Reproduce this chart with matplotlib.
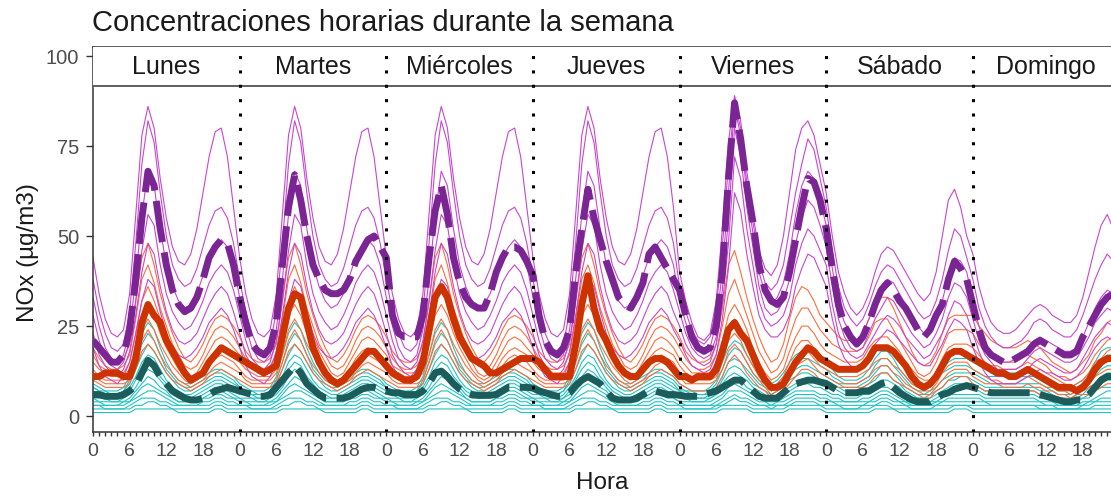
#!/usr/bin/env python3
# -*- coding: utf-8 -*-
"""
Perfil semanal de concentraciones horarias de NOx por estación
Líneas finas: estaciones; líneas gruesas: media de cada grupo
"""

import matplotlib
matplotlib.use('Agg')  # sin pantalla
import matplotlib.pyplot as plt
from matplotlib.ticker import FixedLocator, MultipleLocator

plt.rcParams['font.family'] = ['Liberation Sans', 'DejaVu Sans']

DIAS = ["Lunes", "Martes", "Miércoles", "Jueves", "Viernes", "Sábado", "Domingo"]
HORAS_ETIQUETA = [0, 6, 12, 18]
Y_TICKS = [0, 25, 50, 75, 100]

# medias por grupo (una fila por día, 24 horas)
media_alta = [
    [21, 19, 17, 15, 15, 17, 24, 38, 55, 68, 64, 52, 42, 35, 31, 29, 30, 33, 38, 44, 47, 49, 48, 42],
    [33, 26, 20, 18, 17, 19, 26, 42, 58, 67, 60, 50, 42, 38, 35, 34, 34, 35, 38, 43, 46, 49, 50, 47],
    [44, 28, 23, 22, 22, 22, 28, 44, 57, 64, 56, 44, 37, 33, 31, 30, 30, 34, 40, 44, 47, 47, 46, 43],
    [39, 28, 21, 18, 17, 19, 24, 40, 52, 63, 55, 49, 43, 38, 33, 31, 30, 33, 37, 45, 47, 44, 41, 38],
    [35, 28, 22, 19, 18, 19, 25, 40, 66, 87, 77, 64, 54, 42, 35, 32, 31, 33, 40, 49, 58, 66, 65, 60],
    [52, 41, 31, 25, 22, 20, 22, 26, 31, 35, 37, 35, 32, 30, 27, 24, 22, 24, 28, 31, 38, 43, 41, 38],
    [31, 24, 19, 17, 16, 15, 15, 16, 17, 18, 20, 21, 20, 19, 18, 17, 17, 18, 22, 25, 28, 31, 33, 34],
]
media_media = [
    [11, 11, 12, 12, 12, 11, 11, 16, 26, 31, 28, 26, 21, 18, 15, 12, 10, 11, 12, 15, 17, 19, 18, 17],
    [16, 15, 14, 13, 12, 13, 14, 22, 30, 34, 33, 26, 19, 15, 12, 10, 9, 10, 12, 14, 16, 18, 18, 16],
    [14, 12, 11, 10, 10, 11, 15, 24, 33, 36, 33, 27, 22, 19, 16, 15, 14, 12, 12, 13, 14, 15, 16, 16],
    [16, 15, 13, 11, 11, 11, 11, 20, 31, 39, 30, 24, 21, 17, 14, 12, 11, 11, 13, 15, 16, 16, 15, 13],
    [11, 11, 10, 11, 11, 11, 13, 18, 24, 26, 23, 21, 17, 13, 10, 8, 8, 9, 12, 15, 17, 19, 18, 16],
    [15, 14, 13, 13, 13, 13, 14, 16, 19, 19, 19, 18, 16, 14, 11, 9, 8, 9, 11, 14, 17, 18, 18, 17],
    [16, 15, 14, 13, 12, 12, 11, 11, 12, 13, 12, 11, 10, 9, 8, 8, 8, 7, 8, 10, 13, 15, 16, 16],
]
media_baja = [
    [6, 6, 5.5, 5.5, 5.5, 6, 7, 8.5, 12, 15.5, 14, 11, 9, 7, 6, 5, 4.5, 4.5, 5, 6, 7, 7.5, 8, 7.5],
    [7, 6.5, 6, 5.5, 5.5, 6, 8, 10, 12, 14, 12, 9, 7.5, 6, 5, 5, 5, 5, 5.5, 6.5, 7.5, 8, 8, 7.5],
    [7, 6.5, 6.5, 6, 6, 6, 7, 9, 12, 12.5, 11, 9, 7.5, 6.5, 6, 5.8, 5.8, 5.8, 6, 7, 8, 8, 8, 8],
    [7.8, 7, 6.5, 6, 5.5, 5.5, 6.5, 8.5, 10, 11, 10, 9, 7, 5, 4.5, 4.5, 4.5, 5, 6, 7, 7, 6.5, 6, 6],
    [5.8, 5.5, 5.5, 5.5, 6, 6.5, 7, 8, 9, 10, 10, 8.5, 7, 5.5, 5, 5, 5, 6.5, 8, 9, 9.5, 10, 10, 9.5],
    [9, 8, 7, 6.5, 6.5, 6.5, 7, 7, 8, 9, 9.5, 8, 6.5, 5.5, 4.5, 4, 4, 4, 5, 6, 6.5, 7.5, 8, 8.5],
    [8, 7.5, 7, 6.5, 6.5, 6.5, 6.5, 6.5, 6.5, 6.5, 6.5, 6, 5.5, 5, 4.5, 4, 4, 4.5, 4.5, 6, 8, 10, 11, 11],
]

# estaciones del grupo alto: perfil lunes-jueves, viernes, sábado, domingo
alta_lab = [
    [44, 34, 27, 23, 22, 24, 34, 56, 78, 86, 80, 66, 55, 47, 43, 42, 45, 52, 62, 72, 79, 80, 72, 58],
    [38, 29, 23, 19, 18, 20, 29, 48, 70, 82, 76, 62, 50, 42, 38, 36, 37, 41, 47, 53, 57, 58, 55, 48],
    [33, 25, 19, 16, 15, 17, 24, 38, 56, 68, 64, 52, 42, 36, 32, 30, 31, 34, 39, 44, 47, 49, 47, 42],
    [28, 21, 16, 14, 13, 15, 21, 32, 46, 56, 53, 42, 34, 29, 26, 24, 25, 28, 32, 37, 40, 42, 40, 35],
    [23, 17, 14, 12, 11, 13, 18, 28, 40, 48, 45, 36, 29, 24, 21, 20, 21, 23, 27, 31, 34, 36, 34, 29],
    [19, 14, 11, 10, 9, 11, 15, 23, 32, 38, 36, 29, 23, 19, 17, 16, 17, 19, 22, 26, 28, 30, 28, 24],
]
alta_vie = [
    [40, 32, 26, 22, 21, 23, 32, 52, 76, 89, 82, 68, 56, 46, 41, 39, 42, 50, 62, 74, 80, 82, 78, 70],
    [36, 29, 24, 21, 20, 22, 30, 47, 70, 87, 80, 65, 54, 43, 37, 35, 37, 42, 52, 62, 70, 77, 74, 66],
    [32, 26, 21, 19, 18, 19, 26, 40, 62, 86, 78, 62, 51, 40, 34, 31, 33, 37, 45, 56, 64, 68, 66, 60],
    [29, 23, 19, 17, 16, 17, 22, 35, 55, 80, 72, 58, 47, 36, 30, 28, 29, 32, 38, 48, 55, 60, 58, 53],
    [25, 20, 17, 15, 14, 15, 20, 31, 48, 72, 66, 52, 42, 32, 27, 25, 26, 28, 33, 42, 48, 52, 50, 46],
    [21, 17, 14, 13, 12, 13, 17, 27, 41, 62, 57, 45, 36, 28, 24, 22, 22, 24, 28, 36, 41, 45, 44, 40],
]
alta_sab = [
    [62, 50, 40, 34, 30, 28, 30, 34, 40, 45, 47, 46, 43, 40, 37, 34, 32, 34, 40, 50, 60, 63, 58, 50],
    [58, 46, 36, 30, 27, 25, 27, 31, 36, 40, 42, 41, 38, 35, 32, 29, 27, 28, 32, 38, 46, 52, 50, 44],
    [53, 41, 31, 26, 23, 21, 23, 27, 31, 35, 38, 37, 34, 31, 28, 25, 23, 24, 28, 32, 39, 44, 43, 40],
    [47, 36, 27, 22, 19, 18, 19, 23, 27, 30, 33, 32, 29, 26, 23, 21, 19, 20, 23, 27, 33, 37, 36, 33],
    [42, 31, 23, 19, 17, 16, 17, 20, 23, 26, 28, 27, 25, 22, 20, 18, 16, 17, 20, 23, 28, 32, 31, 28],
    [36, 27, 20, 16, 14, 13, 14, 17, 20, 22, 24, 23, 21, 19, 17, 15, 14, 14, 17, 20, 24, 27, 26, 24],
]
alta_dom = [
    [45, 36, 30, 26, 24, 23, 23, 24, 26, 28, 30, 31, 30, 28, 27, 26, 26, 28, 33, 40, 47, 53, 56, 52],
    [38, 30, 25, 22, 20, 19, 19, 20, 21, 23, 26, 27, 26, 24, 23, 22, 22, 24, 28, 33, 38, 42, 45, 43],
    [32, 25, 20, 18, 16, 15, 15, 16, 17, 19, 21, 22, 21, 20, 19, 18, 18, 19, 22, 26, 30, 33, 35, 34],
    [27, 21, 17, 15, 13, 13, 13, 13, 14, 16, 18, 19, 18, 17, 16, 15, 15, 16, 19, 22, 26, 28, 30, 29],
    [23, 18, 14, 12, 11, 11, 11, 11, 12, 13, 15, 16, 15, 14, 13, 12, 12, 13, 16, 19, 22, 24, 26, 25],
    [19, 15, 12, 10, 9, 9, 9, 9, 10, 11, 12, 13, 12, 12, 11, 10, 10, 11, 13, 16, 19, 21, 22, 21],
]

# estaciones del grupo medio
media_lab = [
    [22, 18, 16, 15, 15, 16, 20, 32, 44, 48, 42, 34, 28, 23, 19, 16, 15, 17, 20, 24, 27, 28, 27, 25],
    [19, 16, 14, 13, 13, 14, 17, 27, 38, 42, 37, 30, 25, 20, 17, 14, 13, 14, 17, 21, 24, 25, 24, 22],
    [17, 14, 13, 12, 12, 12, 15, 23, 32, 36, 32, 27, 22, 18, 15, 12, 11, 12, 15, 18, 21, 22, 21, 19],
    [15, 13, 12, 11, 11, 11, 13, 20, 28, 31, 28, 23, 19, 16, 13, 11, 10, 11, 13, 16, 18, 19, 18, 17],
    [13, 11, 10, 10, 10, 10, 12, 17, 24, 27, 24, 20, 17, 14, 12, 10, 9, 10, 12, 14, 16, 17, 16, 15],
    [12, 10, 9, 9, 9, 9, 10, 15, 21, 24, 21, 17, 14, 12, 10, 9, 8, 9, 10, 12, 14, 15, 14, 13],
    [10, 9, 8, 8, 8, 8, 9, 13, 18, 20, 18, 15, 12, 10, 9, 8, 7, 8, 9, 11, 12, 13, 12, 11],
]
media_vie = [
    [22, 18, 16, 15, 15, 16, 20, 30, 42, 46, 40, 33, 27, 22, 18, 15, 16, 20, 27, 33, 36, 35, 32, 28],
    [19, 16, 14, 13, 13, 14, 17, 25, 34, 38, 33, 28, 23, 18, 15, 12, 13, 16, 22, 27, 30, 30, 27, 24],
    [16, 14, 12, 12, 12, 12, 15, 21, 28, 31, 28, 24, 19, 15, 12, 10, 11, 13, 18, 22, 25, 25, 23, 20],
    [14, 12, 11, 11, 11, 11, 13, 18, 24, 27, 24, 20, 16, 13, 10, 8, 9, 11, 15, 19, 21, 21, 19, 17],
    [12, 10, 10, 10, 10, 10, 11, 15, 21, 23, 21, 17, 14, 11, 9, 7, 8, 9, 13, 16, 18, 18, 16, 14],
    [11, 9, 9, 9, 9, 9, 10, 13, 18, 20, 18, 15, 12, 10, 8, 6, 7, 8, 11, 14, 15, 16, 14, 12],
    [9, 8, 7, 7, 7, 7, 8, 11, 15, 17, 15, 12, 10, 8, 7, 5, 6, 7, 9, 11, 13, 13, 12, 10],
]
media_sab = [
    [26, 24, 22, 21, 21, 21, 23, 27, 31, 33, 33, 30, 26, 22, 18, 15, 14, 15, 18, 23, 27, 28, 28, 28],
    [22, 20, 19, 18, 18, 18, 19, 22, 26, 27, 27, 24, 21, 18, 15, 12, 11, 12, 15, 19, 23, 24, 24, 24],
    [18, 17, 16, 15, 15, 15, 16, 19, 21, 22, 22, 20, 18, 15, 13, 11, 10, 10, 12, 16, 19, 20, 20, 20],
    [15, 14, 13, 13, 13, 13, 14, 16, 18, 19, 19, 17, 15, 13, 11, 9, 8, 8, 10, 14, 17, 18, 18, 18],
    [13, 12, 11, 11, 11, 11, 12, 13, 15, 16, 16, 14, 13, 11, 9, 8, 7, 7, 9, 12, 14, 15, 15, 15],
    [11, 10, 9, 9, 9, 9, 10, 11, 13, 14, 14, 12, 11, 9, 8, 7, 6, 6, 8, 10, 12, 13, 13, 13],
    [9, 8, 8, 8, 8, 8, 8, 9, 11, 12, 12, 10, 9, 8, 7, 6, 5, 5, 7, 8, 10, 11, 11, 11],
]
media_dom = [
    [28, 25, 23, 21, 20, 19, 19, 19, 20, 21, 20, 19, 17, 15, 14, 13, 12, 13, 15, 17, 21, 23, 26, 27],
    [23, 20, 18, 17, 16, 15, 15, 15, 16, 17, 16, 15, 14, 12, 11, 11, 10, 11, 12, 14, 17, 19, 21, 22],
    [19, 17, 15, 14, 14, 13, 13, 13, 14, 15, 14, 13, 12, 11, 10, 9, 8, 9, 10, 12, 15, 16, 18, 19],
    [16, 14, 13, 12, 12, 11, 11, 11, 12, 13, 12, 11, 10, 9, 8, 8, 7, 8, 9, 10, 13, 14, 16, 16],
    [13, 12, 11, 10, 10, 9, 9, 9, 10, 11, 10, 9, 8, 8, 7, 7, 6, 7, 8, 9, 11, 12, 13, 13],
    [11, 10, 9, 9, 9, 8, 8, 8, 8, 9, 8, 8, 7, 7, 6, 6, 5, 6, 7, 8, 9, 10, 11, 11],
    [9, 8, 7, 7, 7, 6, 6, 6, 7, 7, 7, 6, 6, 5, 5, 5, 4, 5, 6, 6, 7, 8, 9, 9],
]

# estaciones del grupo bajo
baja_lab = [
    [9, 8, 7, 7, 7, 8, 11, 17, 23, 26, 24, 19, 15, 12, 10, 9, 9, 10, 11, 12, 13, 13, 12, 11],
    [8, 7, 7, 6, 6, 7, 10, 15, 20, 23, 21, 17, 13, 11, 9, 8, 8, 9, 10, 11, 12, 12, 11, 10],
    [8, 7, 6, 6, 6, 7, 9, 13, 17, 20, 18, 15, 12, 10, 8, 7, 7, 8, 9, 10, 11, 11, 10, 9],
    [7, 6, 6, 5, 5, 6, 8, 11, 15, 17, 16, 13, 10, 8, 7, 6, 6, 7, 8, 9, 10, 10, 9, 8],
    [6, 6, 5, 5, 5, 5, 7, 10, 13, 15, 14, 11, 9, 7, 6, 5, 5, 6, 7, 8, 9, 9, 8, 7],
    [5, 5, 5, 4, 4, 5, 6, 8, 11, 13, 12, 10, 8, 6, 5, 5, 5, 5, 6, 7, 8, 8, 7, 6],
    [5, 4, 4, 4, 4, 4, 5, 7, 9, 11, 10, 8, 7, 5, 4, 4, 4, 4, 5, 6, 7, 7, 6, 5],
    [4, 4, 3, 3, 3, 4, 4, 6, 8, 9, 8, 7, 6, 5, 4, 4, 4, 4, 5, 5, 6, 6, 5, 5],
    [3, 3, 3, 3, 3, 3, 4, 5, 6, 7, 7, 6, 5, 4, 3, 3, 3, 3, 4, 4, 5, 5, 4, 4],
    [3, 3, 2, 2, 2, 2, 3, 4, 5, 5, 5, 4, 4, 3, 3, 3, 3, 3, 3, 3, 4, 4, 3, 3],
    [2, 2, 2, 2, 2, 2, 2, 3, 3, 4, 4, 3, 3, 2, 2, 2, 2, 2, 2, 2, 3, 3, 2, 2],
    [1, 1, 1, 1, 1, 1, 1, 2, 2, 2, 2, 2, 2, 2, 1, 1, 1, 1, 1, 1, 2, 2, 1, 1],
]
baja_vie = [
    [9, 8, 7, 7, 7, 8, 10, 15, 19, 21, 20, 17, 14, 12, 10, 9, 10, 12, 15, 17, 18, 18, 17, 16],
    [8, 7, 7, 6, 6, 7, 9, 13, 17, 19, 18, 15, 12, 10, 9, 8, 9, 11, 13, 15, 16, 16, 15, 14],
    [7, 7, 6, 6, 6, 6, 8, 11, 15, 16, 15, 13, 11, 9, 8, 7, 8, 9, 11, 13, 14, 14, 13, 12],
    [7, 6, 6, 5, 5, 6, 7, 10, 13, 14, 13, 11, 9, 8, 7, 6, 7, 8, 10, 11, 12, 12, 11, 10],
    [6, 5, 5, 5, 5, 5, 6, 9, 11, 12, 11, 10, 8, 7, 6, 5, 6, 7, 8, 9, 10, 10, 10, 9],
    [5, 5, 4, 4, 4, 5, 6, 7, 9, 10, 10, 8, 7, 6, 5, 5, 5, 6, 7, 8, 9, 9, 8, 8],
    [4, 4, 4, 4, 4, 4, 5, 6, 8, 9, 8, 7, 6, 5, 4, 4, 4, 5, 6, 7, 7, 7, 7, 6],
    [4, 3, 3, 3, 3, 3, 4, 5, 7, 7, 7, 6, 5, 4, 4, 3, 4, 4, 5, 6, 6, 6, 6, 5],
    [3, 3, 3, 3, 3, 3, 3, 4, 5, 6, 5, 5, 4, 3, 3, 3, 3, 3, 4, 5, 5, 5, 5, 4],
    [3, 2, 2, 2, 2, 2, 3, 3, 4, 5, 4, 4, 3, 3, 3, 2, 3, 3, 3, 4, 4, 4, 4, 3],
    [2, 2, 2, 2, 2, 2, 2, 3, 3, 3, 3, 3, 2, 2, 2, 2, 2, 2, 3, 3, 3, 3, 3, 3],
    [1, 1, 1, 1, 1, 1, 1, 2, 2, 2, 2, 2, 1, 1, 1, 1, 1, 1, 2, 2, 2, 2, 2, 2],
]
baja_sab = [
    [15, 13, 11, 10, 10, 10, 11, 13, 16, 18, 18, 16, 13, 11, 9, 8, 8, 9, 11, 13, 15, 16, 16, 16],
    [13, 11, 10, 9, 9, 9, 10, 11, 14, 16, 16, 14, 12, 10, 8, 7, 7, 8, 10, 12, 13, 14, 14, 14],
    [11, 10, 9, 8, 8, 8, 9, 10, 12, 14, 14, 12, 10, 8, 7, 6, 6, 7, 8, 10, 11, 12, 12, 12],
    [10, 9, 8, 7, 7, 7, 8, 9, 10, 12, 12, 10, 9, 7, 6, 5, 5, 6, 7, 8, 10, 10, 11, 11],
    [9, 8, 7, 6, 6, 6, 7, 8, 9, 10, 10, 9, 8, 6, 5, 5, 5, 5, 6, 7, 8, 9, 9, 9],
    [7, 6, 6, 5, 5, 5, 6, 6, 7, 8, 8, 7, 6, 5, 4, 4, 4, 4, 5, 6, 7, 7, 8, 8],
    [6, 5, 5, 4, 4, 4, 5, 5, 6, 7, 7, 6, 5, 4, 4, 3, 3, 4, 4, 5, 6, 6, 6, 6],
    [5, 4, 4, 4, 4, 4, 4, 4, 5, 6, 6, 5, 4, 4, 3, 3, 3, 3, 4, 4, 5, 5, 5, 5],
    [4, 4, 3, 3, 3, 3, 3, 4, 4, 5, 5, 4, 4, 3, 3, 3, 3, 3, 3, 4, 4, 4, 4, 4],
    [3, 3, 3, 2, 2, 2, 3, 3, 3, 4, 4, 3, 3, 3, 2, 2, 2, 2, 3, 3, 3, 3, 3, 3],
    [2, 2, 2, 2, 2, 2, 2, 2, 3, 3, 3, 2, 2, 2, 2, 2, 2, 2, 2, 2, 2, 3, 3, 3],
    [1, 1, 1, 1, 1, 1, 1, 1, 2, 2, 2, 2, 1, 1, 1, 1, 1, 1, 1, 1, 1, 2, 2, 2],
]
baja_dom = [
    [15, 14, 13, 12, 12, 12, 12, 12, 12, 12, 12, 11, 10, 9, 8, 8, 8, 9, 10, 12, 15, 18, 19, 19],
    [13, 12, 11, 11, 11, 11, 11, 11, 11, 11, 11, 10, 9, 8, 7, 7, 7, 8, 9, 11, 13, 15, 17, 17],
    [12, 11, 10, 9, 9, 9, 9, 9, 9, 9, 9, 9, 8, 7, 6, 6, 6, 7, 8, 9, 11, 13, 14, 14],
    [10, 9, 8, 8, 8, 8, 8, 8, 8, 8, 8, 7, 7, 6, 5, 5, 5, 6, 6, 8, 9, 11, 12, 12],
    [9, 8, 7, 7, 7, 7, 7, 7, 7, 7, 7, 6, 6, 5, 5, 4, 4, 5, 5, 6, 8, 9, 10, 10],
    [8, 7, 6, 6, 6, 6, 6, 6, 6, 6, 6, 5, 5, 4, 4, 4, 4, 4, 5, 5, 7, 8, 8, 8],
    [6, 6, 5, 5, 5, 5, 5, 5, 5, 5, 5, 4, 4, 4, 3, 3, 3, 3, 4, 4, 5, 6, 7, 7],
    [5, 5, 4, 4, 4, 4, 4, 4, 4, 4, 4, 4, 3, 3, 3, 3, 3, 3, 3, 4, 4, 5, 5, 5],
    [4, 4, 4, 3, 3, 3, 3, 3, 3, 3, 3, 3, 3, 3, 2, 2, 2, 2, 3, 3, 4, 4, 4, 4],
    [3, 3, 3, 3, 3, 3, 3, 3, 3, 3, 3, 2, 2, 2, 2, 2, 2, 2, 2, 2, 3, 3, 3, 3],
    [2, 2, 2, 2, 2, 2, 2, 2, 2, 2, 2, 2, 2, 2, 2, 2, 2, 2, 2, 2, 2, 2, 2, 2],
    [1, 1, 1, 1, 1, 1, 1, 1, 1, 1, 1, 1, 1, 1, 1, 1, 1, 1, 1, 1, 1, 1, 1, 1],
]

# colores: (estaciones, media)
COLOR_ALTA = ('#c846d0', '#7b2595')
COLOR_MEDIA = ('#ff6d3a', '#cc3300')
COLOR_BAJA = ('#22c3c3', '#1c5d5b')


def semana(lab, vie, sab, dom):
    """Une los perfiles diarios en una serie de 168 horas"""
    return lab + lab + lab + lab + vie + sab + dom


def aplanar(dias):
    serie = []
    for d in dias:
        serie.extend(d)
    return serie


def main():
    fig = plt.figure(figsize=(11.11, 4.96), dpi=100)
    ax = fig.add_axes([93 / 1111, 64 / 496, 1018 / 1111, 385 / 496])

    x = list(range(168))

    # líneas finas de cada estación
    grupos = [
        (baja_lab, baja_vie, baja_sab, baja_dom, COLOR_BAJA[0]),
        (media_lab, media_vie, media_sab, media_dom, COLOR_MEDIA[0]),
        (alta_lab, alta_vie, alta_sab, alta_dom, COLOR_ALTA[0]),
    ]
    for lab, vie, sab, dom, color in grupos:
        for i in range(len(lab)):
            ax.plot(x, semana(lab[i], vie[i], sab[i], dom[i]), color=color, lw=0.8, zorder=2)

    # medias de grupo
    ax.plot(x, aplanar(media_baja), color=COLOR_BAJA[1], lw=5,
            dashes=(6, 1.5), solid_capstyle='butt', zorder=4)
    ax.plot(x, aplanar(media_media), color=COLOR_MEDIA[1], lw=5,
            solid_capstyle='round', solid_joinstyle='round', zorder=4)
    ax.plot(x, aplanar(media_alta), color=COLOR_ALTA[1], lw=5,
            dashes=(6, 1.5), zorder=4)

    # franja con los nombres de los días
    y_franja = 91.7
    ax.axhspan(y_franja, 103, color='white', zorder=6)
    ax.axhline(y_franja, color='#333333', lw=1.1, zorder=7)
    for d, nombre in enumerate(DIAS):
        ax.text(24 * d + 12, 96.9, nombre, ha='center', va='center',
                fontsize=18, color='#1a1a1a', zorder=8)

    # separadores entre días
    for d in range(1, 7):
        ax.axvline(24 * d, color='black', lw=2.2, linestyle=(0, (1, 3.7)), zorder=9)

    ax.set_xlim(0, 1018 / 6.11)
    ax.set_ylim(-4.4, 102.5)

    ticks_x = [24 * d + h for d in range(7) for h in HORAS_ETIQUETA]
    ax.xaxis.set_major_locator(FixedLocator(ticks_x))
    ax.set_xticklabels([str(h) for d in range(7) for h in HORAS_ETIQUETA])
    ax.xaxis.set_minor_locator(MultipleLocator(1))
    ax.set_yticks(Y_TICKS)
    ax.set_yticklabels([str(v) for v in Y_TICKS])

    ax.tick_params(axis='x', which='both', length=3, width=1, color='#333333',
                   labelsize=14, labelcolor='#4d4d4d', pad=5)
    ax.tick_params(axis='y', length=5, width=1, color='#333333',
                   labelsize=14.5, labelcolor='#4d4d4d', pad=5)

    for lado in ['left', 'bottom', 'top']:
        ax.spines[lado].set_color('#333333')
        ax.spines[lado].set_linewidth(1.1)
    ax.spines['right'].set_visible(False)

    fig.text(92 / 1111, 1 - 31 / 496, 'Concentraciones horarias durante la semana',
             fontsize=21, color='#1a1a1a', ha='left', va='baseline')
    fig.text(28 / 1111, 1 - 253 / 496, 'NOx (µg/m3)', rotation=90, fontsize=17.5,
             color='#1a1a1a', ha='center', va='center')
    fig.text(602 / 1111, 1 - 483 / 496, 'Hora', fontsize=17.5,
             color='#1a1a1a', ha='center', va='center')

    fig.savefig('out.png', dpi=100, facecolor='white')
    plt.close(fig)


if __name__ == '__main__':
    main()
